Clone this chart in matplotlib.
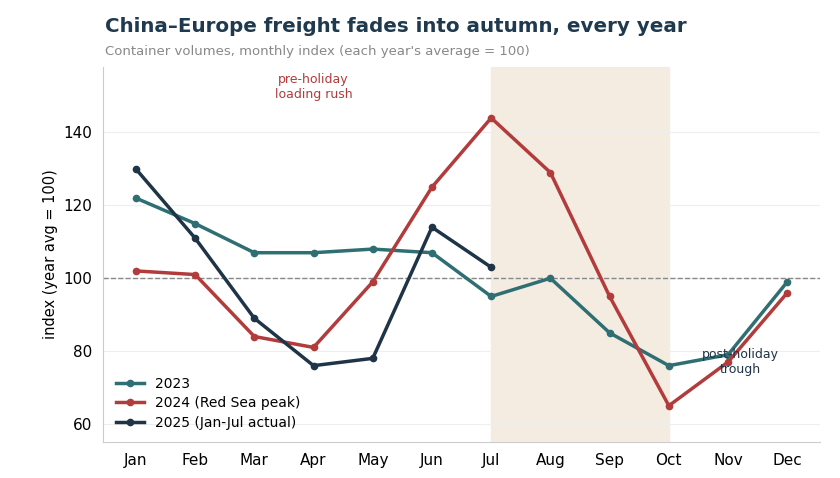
import matplotlib.pyplot as plt

months = ["Jan", "Feb", "Mar", "Apr", "May", "Jun",
          "Jul", "Aug", "Sep", "Oct", "Nov", "Dec"]
idx_2023 = [122, 115, 107, 107, 108, 107, 95, 100, 85, 76, 79, 99]
idx_2024 = [102, 101, 84, 81, 99, 125, 144, 129, 95, 65, 77, 96]
idx_2025 = [130, 111, 89, 76, 78, 114, 103]

TEAL = "#2f6f73"
RED = "#b23b3b"
NAVY = "#1f3547"


def main():
    fig = plt.figure(figsize=(8.4, 4.78), dpi=100)
    ax = fig.add_axes([0.123, 0.075, 0.853, 0.785])

    x = list(range(len(months)))
    ax.axvspan(6, 9, color="#f5ece1", zorder=0)
    ax.axhline(100, color="#888888", lw=1, ls="--", zorder=1)

    ax.plot(x, idx_2023, color=TEAL, lw=2.5, marker="o", ms=4.5, label="2023", zorder=3)
    ax.plot(x, idx_2024, color=RED, lw=2.5, marker="o", ms=4.5,
            label="2024 (Red Sea peak)", zorder=3)
    ax.plot(x[:len(idx_2025)], idx_2025, color=NAVY, lw=2.5, marker="o", ms=4.5,
            label="2025 (Jan-Jul actual)", zorder=4)

    ax.text(3, 152.5, "pre-holiday\nloading rush", color=RED, fontsize=9,
            ha="center", va="center")
    ax.text(10.2, 77, "post-holiday\ntrough", color=NAVY, fontsize=9,
            ha="center", va="center")

    ax.set_xlim(-0.55, 11.55)
    ax.set_ylim(55, 158)
    ax.set_xticks(x)
    ax.set_xticklabels(months)
    ax.set_yticks([60, 80, 100, 120, 140])
    ax.tick_params(labelsize=11, length=0, pad=8)
    ax.set_ylabel("index (year avg = 100)", fontsize=10.5)
    ax.grid(axis="y", color="#eeeeee", lw=0.8, zorder=0)
    ax.set_axisbelow(True)
    for side in ["top", "right"]:
        ax.spines[side].set_visible(False)
    for side in ["left", "bottom"]:
        ax.spines[side].set_color("#cccccc")

    ax.legend(loc="lower left", frameon=False, fontsize=10, handlelength=2,
              labelspacing=0.4, borderaxespad=0.5)

    fig.text(0.125, 0.945, "China\u2013Europe freight fades into autumn, every year",
             fontsize=14.3, fontweight="bold", color="#1f3a4f", va="center")
    fig.text(0.125, 0.893, "Container volumes, monthly index (each year's average = 100)",
             fontsize=9.5, color="#888888", va="center")

    fig.savefig("out.png", dpi=100)


if __name__ == "__main__":
    main()
